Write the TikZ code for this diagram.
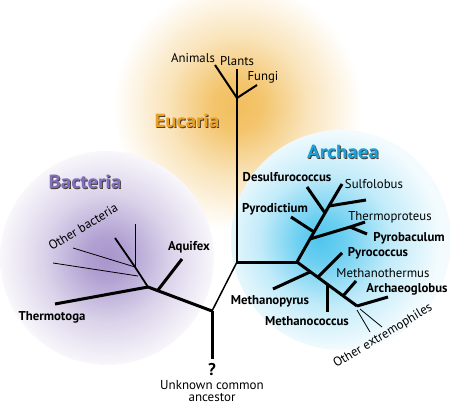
\documentclass[tikz,border=0pt]{standalone}
\usepackage{fontspec}
\usepackage{graphicx}
\setmainfont{PT Sans}
\usetikzlibrary{positioning}
\definecolor{eucol}{RGB}{240,182,72}
\definecolor{bactcol}{RGB}{160,140,200}
\definecolor{archcol}{RGB}{80,198,238}
\definecolor{eutext}{RGB}{234,160,36}
\definecolor{bacttext}{RGB}{128,112,186}
\definecolor{archtext}{RGB}{28,160,216}
\definecolor{shadowc}{RGB}{70,60,50}
\pgfdeclareradialshading{euglow}{\pgfpointorigin}{color(0bp)=(eucol!88!white); color(5bp)=(eucol!80!white); color(14bp)=(eucol!38!white); color(25bp)=(white); color(50bp)=(white)}
\pgfdeclareradialshading{bactglow}{\pgfpointorigin}{color(0bp)=(bactcol!92!white); color(5bp)=(bactcol!82!white); color(15bp)=(bactcol!38!white); color(24bp)=(bactcol!10!white); color(25bp)=(bactcol!7!white); color(50bp)=(white)}
\pgfdeclareradialshading{archglow}{\pgfpoint{-5bp}{0bp}}{color(0bp)=(archcol); color(5bp)=(archcol!85!white); color(15bp)=(archcol!35!white); color(24bp)=(archcol!10!white); color(25bp)=(archcol!7!white); color(50bp)=(white)}
\newcommand{\grpname}[2]{\makebox[0pt][l]{\hspace{0.9pt}\raisebox{-0.9pt}{\textcolor{shadowc}{\scalebox{1.1}[1]{#2}}}}\textcolor{#1}{\scalebox{1.1}[1]{#2}}}
\tikzset{
  lbl/.style={inner sep=0pt, font=\fontsize{12.8}{14}\selectfont},
  blbl/.style={inner sep=0pt, font=\fontsize{12.8}{14}\selectfont\bfseries},
  grptitle/.style={inner sep=0pt, font=\fontsize{19}{21}\selectfont\bfseries},
  thick branch/.style={line width=3pt, color=black},
  mid branch/.style={line width=1.8pt, color=black},
  thin branch/.style={line width=0.8pt, color=black}
}
\begin{document}
\begin{tikzpicture}
\useasboundingbox (0pt,0pt) rectangle (450pt,-404pt);
% glows
\shade [shading=euglow] (237pt,-106pt) circle (124pt);
\shade [shading=bactglow] (107pt,-258pt) circle (107pt);
\shade [shading=archglow] (341pt,-240pt) circle (110pt);
% branch points
\coordinate (rb) at (212pt,-359pt);
\coordinate (R) at (212pt,-311pt);
\coordinate (E0) at (237pt,-262pt);
\coordinate (EJ) at (237pt,-98pt);
\coordinate (plantst) at (237pt,-69pt);
\coordinate (animalst) at (215pt,-65pt);
\coordinate (fungit) at (257pt,-85pt);
\coordinate (B) at (148pt,-287pt);
\coordinate (aqb) at (158pt,-290pt);
\coordinate (aqt) at (182pt,-259pt);
\coordinate (thermot) at (55pt,-304pt);
\coordinate (ob) at (135pt,-267pt);
\coordinate (ob1) at (115pt,-238pt);
\coordinate (ob2) at (135pt,-224pt);
\coordinate (ob3) at (73pt,-248pt);
\coordinate (ob4b) at (138pt,-276pt);
\coordinate (ob4) at (53pt,-263pt);
\coordinate (A) at (297pt,-262pt);
\coordinate (A1) at (310pt,-239pt);
\coordinate (A2) at (325pt,-213pt);
\coordinate (A3) at (329pt,-206pt);
\coordinate (pyrodb) at (314pt,-232pt);
\coordinate (pyrodt) at (291pt,-217pt);
\coordinate (desult) at (307pt,-187pt);
\coordinate (sulft) at (342pt,-184pt);
\coordinate (a3t) at (366pt,-200pt);
\coordinate (tp) at (350pt,-227pt);
\coordinate (tpt) at (365pt,-222pt);
\coordinate (pbt) at (367pt,-234pt);
\coordinate (L1) at (310pt,-272pt);
\coordinate (L2) at (318pt,-277pt);
\coordinate (L3) at (327pt,-284pt);
\coordinate (L4) at (343pt,-296pt);
\coordinate (L5) at (357pt,-306pt);
\coordinate (mpyt) at (273pt,-289pt);
\coordinate (pycot) at (342pt,-253pt);
\coordinate (mcot) at (327pt,-312pt);
\coordinate (mtht) at (356pt,-281pt);
\coordinate (arcgt) at (388pt,-297pt);
\coordinate (oxb1) at (357pt,-310pt);
\coordinate (oxt1) at (370pt,-332pt);
\coordinate (oxb2) at (360pt,-309pt);
\coordinate (oxt2) at (382pt,-327pt);
% trunk
\draw [thick branch] (rb) to (R);
\draw [thick branch] (R) to (B);
\draw [line width=1.5pt] (R) to (E0);
% eucaria
\draw [line width=1.6pt] (E0) to (EJ);
\draw [line width=1.6pt] (EJ) to (plantst);
\draw [line width=2pt] (EJ) to (animalst);
\draw [line width=2pt] (EJ) to (fungit);
% bacteria
\draw [thick branch] (B) to (thermot);
\draw [thick branch] (aqb) to (aqt);
\draw [mid branch] (B) to (ob);
\draw [mid branch] (ob) to (ob1);
\draw [thin branch] (ob) to (ob2);
\draw [thin branch] (ob) to (ob3);
\draw [thin branch] (ob4b) to (ob4);
% archaea
\draw [thick branch] (E0) to (A);
\draw [thick branch, line join=round] (A) to (A1) to (A2) to (A3) to (sulft);
\draw [thick branch] (pyrodb) to (pyrodt);
\draw [thick branch] (A2) to (desult);
\draw [thick branch] (A3) to (a3t);
\draw [thick branch] (A1) to (tp);
\draw [thick branch] (tp) to (tpt);
\draw [thick branch] (tp) to (pbt);
\draw [thick branch] (A) to (L5);
\draw [thick branch] (L1) to (mpyt);
\draw [thick branch] (L2) to (pycot);
\draw [thick branch] (L3) to (mcot);
\draw [thick branch] (L4) to (mtht);
\draw [thick branch] (L5) to (arcgt);
\draw [thin branch] (oxb1) to (oxt1);
\draw [thin branch] (oxb2) to (oxt2);
% group titles
\node (eutitle) [grptitle] at (187pt,-121pt) {\grpname{eutext}{Eucaria}};
\node (bacttitle) [grptitle] at (85pt,-182pt) {\grpname{bacttext}{Bacteria}};
\node (archtitle) [grptitle] at (343pt,-152pt) {\grpname{archtext}{Archaea}};
% labels
\node (animals) [lbl] at (193pt,-58pt) {Animals};
\node (plants) [lbl] at (237pt,-61pt) {Plants};
\node (fungi) [lbl] at (263pt,-77pt) {Fungi};
\node (otherbact) [lbl, rotate=31] at (83pt,-227pt) {Other bacteria};
\node (aquifex) [blbl] at (189pt,-247pt) {Aquifex};
\node (thermotoga) [blbl] at (52pt,-317pt) {Thermotoga};
\node (desulfu) [blbl] at (287pt,-177pt) {Desulfurococcus};
\node (sulfolobus) [lbl] at (374pt,-184pt) {Sulfolobus};
\node (pyrodictium) [blbl] at (275pt,-209pt) {Pyrodictium};
\node (thermoprot) [lbl] at (390pt,-217pt) {Thermoproteus};
\node (pyrobac) [blbl] at (409pt,-238pt) {Pyrobaculum};
\node (pyrococcus) [blbl] at (378pt,-253pt) {Pyrococcus};
\node (methanoth) [lbl] at (383pt,-273pt) {Methanothermus};
\node (archaeog) [blbl] at (407pt,-289pt) {Archaeoglobus};
\node (methanopy) [blbl] at (270pt,-301pt) {Methanopyrus};
\node (methanoco) [blbl] at (307pt,-321pt) {Methanococcus};
\node (otherextr) [lbl, rotate=31] at (383pt,-336pt) {Other extremophiles};
\node (qmark) [inner sep=0pt, font=\fontsize{17}{18}\selectfont\bfseries] at (212pt,-370pt) {?};
\node (ancestor) [lbl, align=center, font=\fontsize{13}{11.5}\selectfont] at (212pt,-391pt) {Unknown common\\ancestor};
\end{tikzpicture}
\end{document}
